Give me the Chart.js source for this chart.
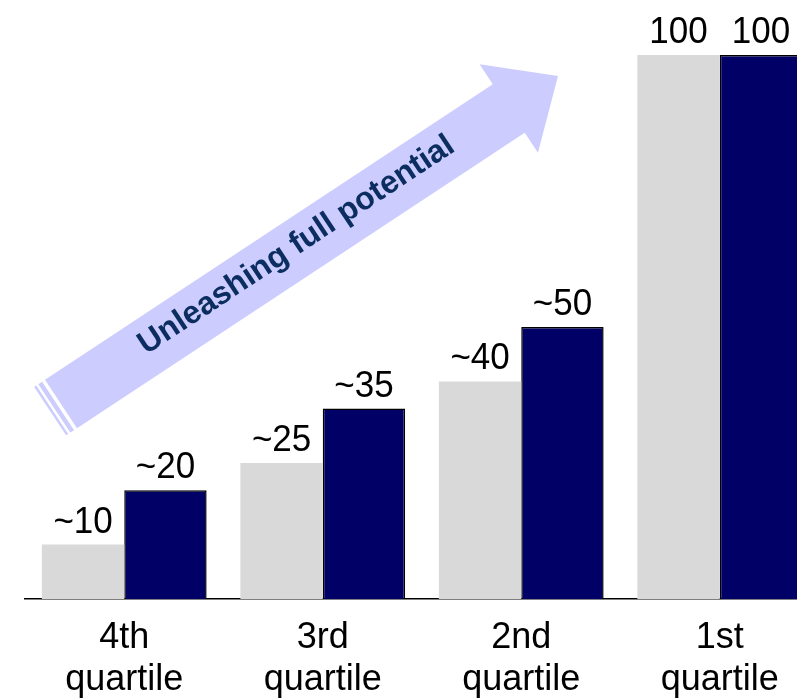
<!DOCTYPE html>
<html>
<head>
<meta charset="utf-8">
<script src="https://cdn.jsdelivr.net/npm/chart.js@4.4.0/dist/chart.umd.min.js"></script>
<style>
    html, body { margin: 0; padding: 0; background: #fff; overflow: hidden; }
    #wrap { position: relative; width: 819px; height: 700px; }
</style>
</head>
<body>
<div id="wrap"><canvas id="chart"></canvas></div>
<script>
const categories = [['4th', 'quartile'], ['3rd', 'quartile'], ['2nd', 'quartile'], ['1st', 'quartile']];
const currentValues = [10, 25, 40, 100];
const potentialValues = [20, 35, 50, 100];
const currentLabels = ['~10', '~25', '~40', '100'];
const potentialLabels = ['~20', '~35', '~50', '100'];
const arrowText = 'Unleashing full potential';

const FONT = '"Liberation Sans", Arial, sans-serif';

// value labels over each bar (slightly stretched vertically like the original)
const valueLabels = {
    id: 'valueLabels',
    afterDatasetsDraw(chart) {
        const ctx = chart.ctx;
        const texts = [currentLabels, potentialLabels];
        ctx.font = '35px ' + FONT;
        ctx.fillStyle = '#000';
        ctx.textAlign = 'center';
        ctx.textBaseline = 'alphabetic';
        chart.data.datasets.forEach((ds, i) => {
            chart.getDatasetMeta(i).data.forEach((bar, j) => {
                ctx.save();
                ctx.translate(bar.x, bar.y - 12);
                ctx.scale(1, 1.08);
                ctx.fillText(texts[i][j], 0, 0);
                ctx.restore();
            });
        });
    }
};

// big diagonal arrow behind the bars
const growthArrow = {
    id: 'growthArrow',
    beforeDatasetsDraw(chart) {
        const ctx = chart.ctx;
        const a = chart.chartArea;
        const x0 = a.left + 36, y0 = a.top + 349;   // tail centre
        const x1 = a.left + 533, y1 = a.top + 21;   // tip
        const len = Math.hypot(x1 - x0, y1 - y0);
        const ux = (x1 - x0) / len, uy = (y1 - y0) / len;
        const nx = -uy, ny = ux;
        const hw = 29, hh = 53, hl = 59;
        const bx = x1 - hl * ux, by = y1 - hl * uy;
        const pt = (t, n) => [x0 + t * ux + n * nx, y0 + t * uy + n * ny];

        ctx.save();
        ctx.fillStyle = '#ccccff';
        ctx.beginPath();
        ctx.moveTo(x0 - hw * nx, y0 - hw * ny);
        ctx.lineTo(bx - hw * nx, by - hw * ny);
        ctx.lineTo(bx - hh * nx, by - hh * ny);
        ctx.lineTo(x1, y1);
        ctx.lineTo(bx + hh * nx, by + hh * ny);
        ctx.lineTo(bx + hw * nx, by + hw * ny);
        ctx.lineTo(x0 + hw * nx, y0 + hw * ny);
        ctx.closePath();
        ctx.fill();

        [[-8, -3.5], [-13, -10.5]].forEach(([t0, t1]) => {
            ctx.beginPath();
            ctx.moveTo(...pt(t0, -hw));
            ctx.lineTo(...pt(t1, -hw));
            ctx.lineTo(...pt(t1, hw));
            ctx.lineTo(...pt(t0, hw));
            ctx.closePath();
            ctx.fill();
        });

        const [tx, ty] = pt(284, 6);
        ctx.translate(tx, ty);
        ctx.rotate(Math.atan2(uy, ux));
        ctx.font = 'bold 32px ' + FONT;
        ctx.fillStyle = '#0b2d5f';
        ctx.textAlign = 'center';
        ctx.textBaseline = 'alphabetic';
        ctx.fillText(arrowText, 0, 0);
        ctx.restore();
    }
};

new Chart(document.getElementById('chart'), {
    type: 'bar',
    data: {
        labels: categories,
        datasets: [{
            label: 'Current',
            data: currentValues,
            backgroundColor: '#d9d9d9',
            borderWidth: 0
        }, {
            label: 'Full potential',
            data: potentialValues,
            backgroundColor: '#000066',
            borderColor: '#000000',
            borderWidth: 1.5
        }]
    },
    options: {
        responsive: true,
        maintainAspectRatio: false,
        animation: false,
        categoryPercentage: 0.83,
        barPercentage: 1.0,
        layout: {
            padding: { top: 55, left: 25, right: 0, bottom: 0 }
        },
        plugins: {
            legend: { display: false },
            tooltip: { enabled: false }
        },
        scales: {
            y: {
                display: false,
                min: 0,
                max: 100
            },
            x: {
                grid: { display: false, drawTicks: false },
                border: { display: true, color: '#000', width: 1.5 },
                ticks: {
                    color: '#000',
                    font: { size: 36, family: FONT, lineHeight: 1.17 },
                    padding: 18,
                    maxRotation: 0,
                    autoSkip: false
                },
                afterFit(scale) {
                    scale.height = 101;
                }
            }
        }
    },
    plugins: [growthArrow, valueLabels]
});
</script>
</body>
</html>
